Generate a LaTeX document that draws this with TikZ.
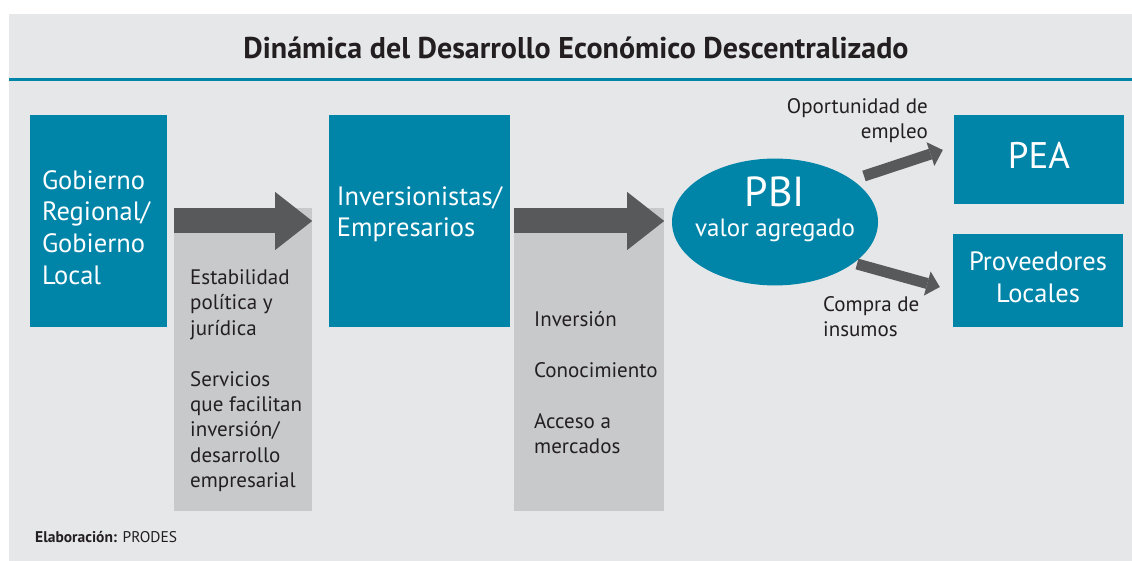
\documentclass[tikz,border=0pt]{standalone}
\usepackage{fontspec}
\setmainfont{PT Sans}
\usetikzlibrary{arrows.meta,calc,shapes.geometric}
\definecolor{bgc}{HTML}{E6E7E8}
\definecolor{bluec}{HTML}{0085A9}
\definecolor{colc}{HTML}{C8C9CB}
\definecolor{arrc}{HTML}{58595B}
\definecolor{txtc}{HTML}{231F20}
\tikzset{
  bluebox/.style={fill=bluec, text=white, inner sep=0pt, align=left},
  colbox/.style={fill=colc, inner sep=0pt},
  coltext/.style={text=txtc, inner sep=0pt, align=left, font=\fontsize{21}{25.4}\selectfont},
  lbltext/.style={text=txtc, inner sep=0pt, font=\fontsize{21}{25}\selectfont},
  bigarrow/.style={draw=arrc, line width=25pt, -{Triangle[width=58pt,length=37pt,line width=0pt]}},
  smallarrow/.style={draw=arrc, line width=11pt, -{Triangle[width=25pt,length=13pt,line width=0pt]}},
}
\begin{document}
\begin{tikzpicture}[x=1pt,y=-1pt]
\useasboundingbox (0,0) rectangle (1132,561);
\fill[bgc] (9,14) rectangle (1132,561);
\draw[bluec, line width=3pt] (9,80) -- (1132,80);
\node[text=txtc, inner sep=0pt, anchor=base, font=\fontsize{30}{32}\selectfont\bfseries] (title) at (576,59) {Dinámica del Desarrollo Económico Descentralizado};

% columns
\node[colbox, minimum width=138pt, minimum height=303pt] (col1) at (243,359.5) {};
\node[colbox, minimum width=150pt, minimum height=303pt] (col2) at (589,359.5) {};

% boxes
\node[bluebox, minimum width=137pt, minimum height=212pt, text width=113pt, font=\fontsize{26.5}{31.7}\selectfont] (gob) at (98.5,221) {\mbox{}\\Gobierno\\Regional/\\Gobierno\\Local};
\node[bluebox, minimum width=181pt, minimum height=212pt, font=\fontsize{26.5}{31}\selectfont] (inv) at (419.5,221) {Inversionistas/\\Empresarios\\[-12pt]\mbox{}};
\node[ellipse, fill=bluec, text=white, inner xsep=-12pt, inner ysep=0pt, minimum width=206pt, minimum height=120pt, align=center, font=\fontsize{25}{30}\selectfont] (pbi) at (775,222) {{\fontsize{42}{30}\selectfont PBI}\\valor agregado\\[0pt]\mbox{}};
\node[bluebox, align=center, minimum width=170pt, minimum height=89pt, text height=26pt, text depth=7pt, font=\fontsize{37}{40}\selectfont] (pea) at (1039,159.5) {PEA};
\node[bluebox, align=center, minimum width=170pt, minimum height=93pt, font=\fontsize{26.5}{32}\selectfont] (prov) at (1038,280.5) {Proveedores\\Locales\\[-26pt]\mbox{}};

% column texts
\node[coltext, anchor=north west] (t1) at (190,269.5) {Estabilidad\\política y\\jurídica\\[25.4pt]Servicios\\que facilitan\\inversión/\\desarrollo\\empresarial};
\node[coltext, anchor=north west] (t2) at (534,311) {Inversión\\[25.5pt]Conocimiento\\[25.5pt]Acceso a\\mercados};

% big arrows
\draw[bigarrow] (col1.west |- gob.center) -- (col1.east |- gob.center);
\draw[bigarrow] (col2.west |- gob.center) -- (col2.east |- gob.center);

% small arrows
\draw[smallarrow] ($(pbi.center)+(89,-46)$) -- ($(pea.west)+(-11,-9.5)$);
\draw[smallarrow] ($(pbi.center)+(82,42)$) -- ($(prov.west)+(-13,6.5)$);

% labels
\node[lbltext, align=right, anchor=north east] (l1) at (928,98) {Oportunidad de\\empleo};
\node[lbltext, align=left, anchor=north west] (l2) at (823,296) {Compra de\\insumos};

\node[text=txtc, inner sep=0pt, anchor=base west, font=\fontsize{15.5}{17}\selectfont] (src) at (35,542) {\textbf{Elaboración:} PRODES};
\end{tikzpicture}
\end{document}
